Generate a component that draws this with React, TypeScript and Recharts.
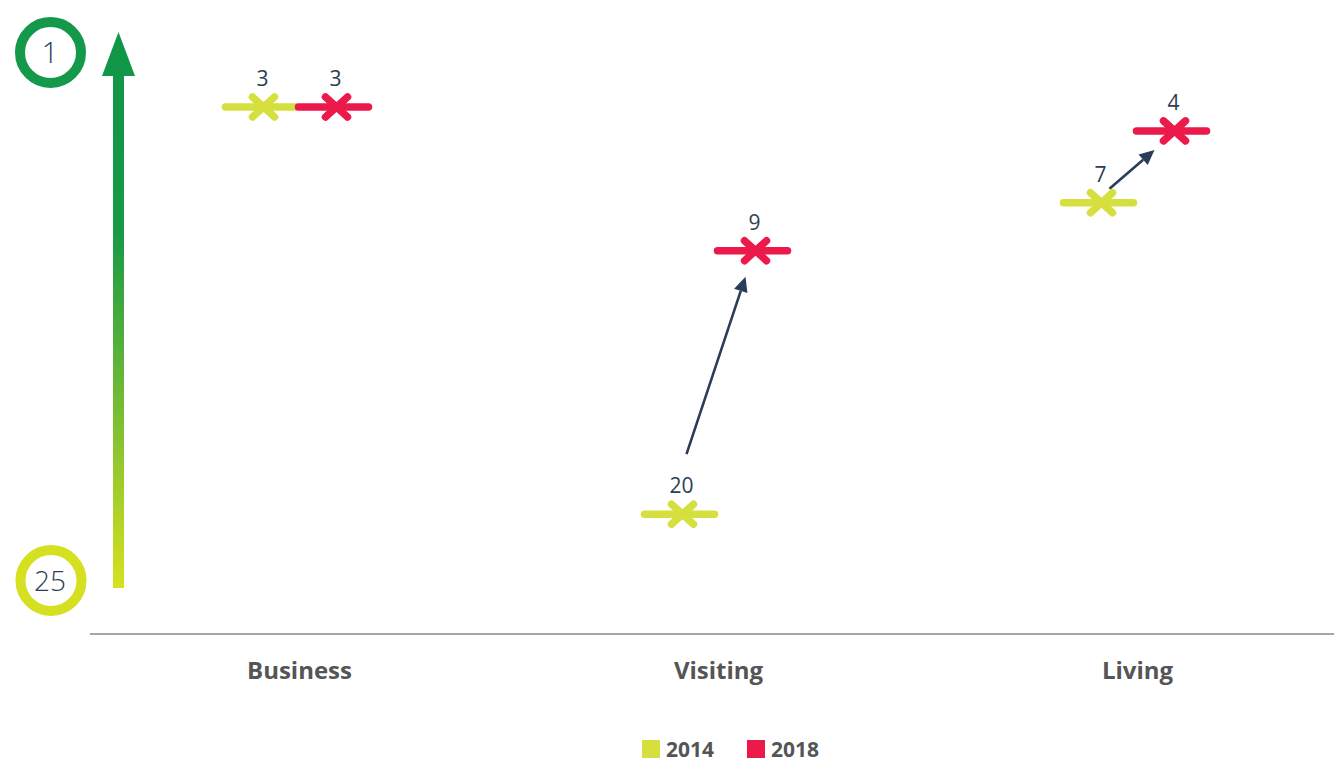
import React from 'react';
import {
  ComposedChart,
  XAxis,
  YAxis,
  Scatter,
  Legend,
  ReferenceLine,
  Customized,
} from 'recharts';

// ---- data ----
const categories = ['Business', 'Visiting', 'Living'];
const rank2014 = [3, 20, 7];
const rank2018 = [3, 9, 4];
const seriesNames = ['2014', '2018'];
const rankDomain = [1, 25];
const rankTicks = [1, 25];

const data = categories.map((c, i) => ({ cat: c, y2014: rank2014[i], y2018: rank2018[i] }));
const changes = categories
  .map((c, i) => ({ cat: c, from: rank2014[i], to: rank2018[i] }))
  .filter((d) => d.from !== d.to);

// ---- styles ----
const FONT = "'Open Sans', 'Noto Sans', sans-serif";
const C2014 = '#d5df3e';
const C2018 = '#ec1a4b';
const LABEL = '#2d3e56';
const ARROW = '#2a3d58';
const DX2014 = -39;
const DX2018 = 34;

const makeMarker = (color: string, dx: number) => (props: any) => {
  const { cx, cy, value, payload } = props;
  if (cx == null || cy == null) return <g />;
  const lx = cx + dx;
  const xc = lx + 3;
  const v = value ?? (color === C2014 ? payload.y2014 : payload.y2018);
  const sw = 7.5;
  return (
    <g>
      <line x1={lx - 35} y1={cy} x2={lx + 35} y2={cy} stroke={color} strokeWidth={sw} strokeLinecap="round" />
      <line x1={xc - 11} y1={cy - 10} x2={xc + 11} y2={cy + 10} stroke={color} strokeWidth={sw} strokeLinecap="round" />
      <line x1={xc - 11} y1={cy + 10} x2={xc + 11} y2={cy - 10} stroke={color} strokeWidth={sw} strokeLinecap="round" />
      <text x={xc - 1} y={cy - 21} textAnchor="middle" fontSize={21} fontFamily={FONT} fill={LABEL}>
        {Array.isArray(v) ? v[1] : v}
      </text>
    </g>
  );
};

const ArrowShape = (props: any) => {
  const { x1, y1, x2, y2 } = props;
  if ([x1, y1, x2, y2].some((n) => n == null || isNaN(n))) return <g />;
  const p14x = x1 + DX2014 + 3;
  const p18x = x2 + DX2018 + 3;
  const steep = y1 - y2 > 100;
  const sx = steep ? p14x + 4 : p14x + 8;
  const sy = steep ? y1 - 60 : y1 - 14;
  const ex = steep ? p18x - 10 : p18x - 20;
  const ey = steep ? y2 + 26 : y2 + 19;
  const ang = Math.atan2(ey - sy, ex - sx);
  const hl = 15;
  const hw = 7;
  const bx = ex - Math.cos(ang) * hl;
  const by = ey - Math.sin(ang) * hl;
  const px = -Math.sin(ang) * hw;
  const py = Math.cos(ang) * hw;
  return (
    <g>
      <line x1={sx} y1={sy} x2={bx} y2={by} stroke={ARROW} strokeWidth={2.6} />
      <polygon points={`${ex},${ey} ${bx + px},${by + py} ${bx - px},${by - py}`} fill={ARROW} />
    </g>
  );
};

const Decoration = () => (
  <g>
    <defs>
      <linearGradient id="rankGrad" x1="0" y1="32" x2="0" y2="588" gradientUnits="userSpaceOnUse">
        <stop offset="0" stopColor="#0f9647" />
        <stop offset="0.36" stopColor="#189947" />
        <stop offset="1" stopColor="#d7e11f" />
      </linearGradient>
    </defs>
    <rect x={113} y={74} width={11} height={514} fill="url(#rankGrad)" />
    <polygon points="118.5,32 102,76 135,76" fill="url(#rankGrad)" />
    <circle cx={50.5} cy={52.5} r={30.5} fill="none" stroke="#14984a" strokeWidth={10} />
    <text x={50} y={63} textAnchor="middle" fontSize={29} fontWeight={300} fontFamily={FONT} fill={LABEL}>
      {rankTicks[0]}
    </text>
    <circle cx={51} cy={580.5} r={30.5} fill="none" stroke="#d5e021" strokeWidth={10} />
    <text x={50} y={591} textAnchor="middle" fontSize={28} fontWeight={300} fontFamily={FONT} fill={LABEL}>
      {rankTicks[1]}
    </text>
  </g>
);

const LegendContent = (props: any) => {
  const items = props.payload || [];
  return (
    <div
      style={{
        height: 70,
        display: 'flex',
        justifyContent: 'center',
        alignItems: 'flex-end',
        paddingLeft: 24,
        boxSizing: 'border-box',
        paddingBottom: 3,
      }}
    >
      {items.map((it: any, i: number) => (
        <div key={i} style={{ display: 'flex', alignItems: 'center', marginRight: i === 0 ? 33 : 0, height: 24 }}>
          <div style={{ width: 18, height: 18, background: it.color, marginRight: 6 }} />
          <span style={{ fontFamily: FONT, fontWeight: 700, fontSize: 21, color: '#555', lineHeight: '24px' }}>
            {it.value}
          </span>
        </div>
      ))}
    </div>
  );
};

export default function App() {
  return (
    <div style={{ position: 'fixed', left: 0, top: 0, width: 1334, height: 764, overflow: 'hidden', background: '#fff' }}>
      <ComposedChart width={1350} height={764} data={data} margin={{ top: 59, right: 3, bottom: 0, left: 90 }}>
        <XAxis
          dataKey="cat"
          type="category"
          scale="band"
          axisLine={{ stroke: '#888', strokeWidth: 1.5 }}
          tickLine={false}
          tickSize={0}
          tickMargin={28}
          height={60}
          tick={{ fill: '#555', fontSize: 24, fontWeight: 700, fontFamily: FONT }}
        />
        <YAxis type="number" domain={rankDomain} ticks={rankTicks} reversed hide />
        <Customized component={Decoration} />
        {changes.map((d) => (
          <ReferenceLine
            key={d.cat}
            segment={[
              { x: d.cat, y: d.from },
              { x: d.cat, y: d.to },
            ]}
            ifOverflow="visible"
            shape={ArrowShape}
          />
        ))}
        <Scatter
          name={seriesNames[0]}
          dataKey="y2014"
          fill={C2014}
          shape={makeMarker(C2014, DX2014)}
          isAnimationActive={false}
        />
        <Scatter
          name={seriesNames[1]}
          dataKey="y2018"
          fill={C2018}
          shape={makeMarker(C2018, DX2018)}
          isAnimationActive={false}
        />
        <Legend verticalAlign="bottom" content={LegendContent} />
      </ComposedChart>
    </div>
  );
}
